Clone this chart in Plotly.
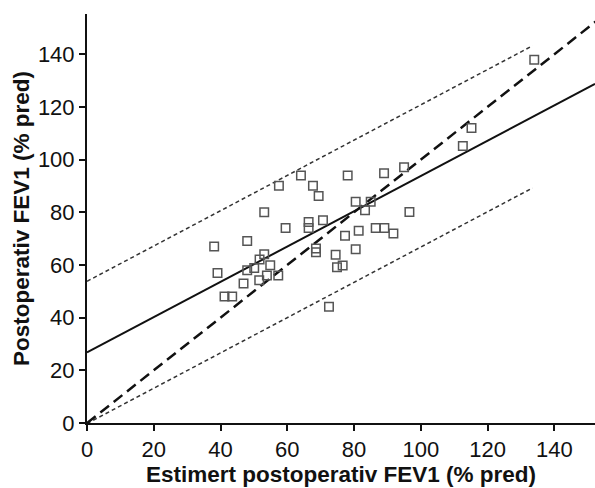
import plotly.graph_objects as go

# Scatter data
est_fev1 = [57.5, 53.1, 59.5, 38.1, 48.0, 53.1, 51.7, 50.1, 54.9, 48.0, 39.1, 53.9, 57.3,
            51.6, 46.9, 41.2, 43.5, 64.1, 67.7, 69.4, 78.1, 89.0, 80.5, 85.0, 83.3, 70.7,
            66.4, 66.4, 77.3, 81.4, 86.5, 89.1, 68.6, 68.6, 74.5, 80.5, 76.6, 74.9, 72.5,
            115.2, 112.6, 95.0, 96.6, 91.8, 134.0]
post_fev1 = [90.1, 80.0, 74.0, 67.0, 69.1, 64.1, 62.1, 58.9, 59.9, 58.0, 57.0, 56.0, 56.0,
             54.2, 53.0, 48.0, 48.0, 94.0, 90.1, 86.2, 94.0, 94.8, 84.0, 84.0, 80.8, 77.0,
             76.3, 74.0, 71.1, 73.0, 74.0, 74.0, 66.3, 64.8, 63.9, 66.0, 59.8, 59.1, 44.1,
             112.0, 105.2, 97.1, 80.1, 72.0, 137.9]

# Regression line, identity line and prediction band
fit_intercept = 26.8
fit_slope = 0.67
band_halfwidth = 27.0
fit_x = [0, 152.2]
identity_x = [0, 156]
band_x = [0, 133.5]

x_ticks = [0, 20, 40, 60, 80, 100, 120, 140]
y_ticks = [0, 20, 40, 60, 80, 100, 120, 140]

fit_y = [fit_intercept + fit_slope * v for v in fit_x]
band_up = [fit_intercept + fit_slope * v + band_halfwidth for v in band_x]
band_lo = [fit_intercept + fit_slope * v - band_halfwidth for v in band_x]

fig = go.Figure()
fig.add_trace(go.Scatter(x=band_x, y=band_up, mode="lines",
                         line=dict(color="#333333", width=1.5, dash="4px,3px")))
fig.add_trace(go.Scatter(x=band_x, y=band_lo, mode="lines",
                         line=dict(color="#333333", width=1.5, dash="4px,3px")))
fig.add_trace(go.Scatter(x=identity_x, y=identity_x, mode="lines",
                         line=dict(color="#111111", width=2.5, dash="11px,6px")))
fig.add_trace(go.Scatter(x=fit_x, y=fit_y, mode="lines",
                         line=dict(color="#111111", width=2)))
fig.add_trace(go.Scatter(x=est_fev1, y=post_fev1, mode="markers",
                         marker=dict(symbol="square-open", size=8.5,
                                     line=dict(color="#555555", width=1.5),
                                     color="#555555")))

font_family = "Liberation Sans, Arial, sans-serif"
fig.update_layout(
    width=595, height=488,
    margin=dict(l=87, r=0, t=14, b=65),
    paper_bgcolor="white", plot_bgcolor="white",
    showlegend=False,
    font=dict(family=font_family, size=22, color="#111111"),
    xaxis=dict(range=[0, 152.2], tickvals=x_ticks, ticks="outside", ticklen=6,
               tickwidth=1.5, tickcolor="#111111", showline=True, linecolor="#111111",
               linewidth=2, showgrid=False, zeroline=False,
               title=dict(text="<b>Estimert postoperativ FEV1 (% pred)</b>",
                          font=dict(size=22.5), standoff=3),
               tickfont=dict(size=22)),
    yaxis=dict(range=[0, 155.3], tickvals=y_ticks, ticks="outside", ticklen=6,
               tickwidth=1.5, tickcolor="#111111", showline=True, linecolor="#111111",
               linewidth=2, showgrid=False, zeroline=False,
               title=dict(text="<b>Postoperativ FEV1 (% pred)</b>",
                          font=dict(size=22.5), standoff=2),
               tickfont=dict(size=22)),
)

fig.write_html("out.html")
